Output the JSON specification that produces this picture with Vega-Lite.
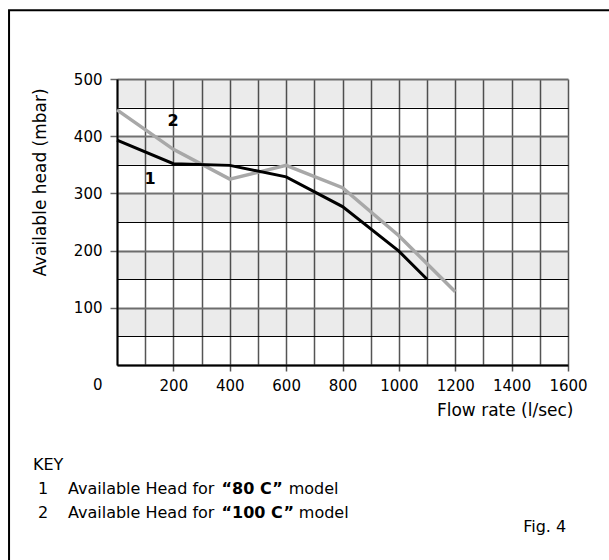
{
  "$schema": "https://vega.github.io/schema/vega-lite/v6.json",
  "width": 451,
  "height": 286,
  "autosize": {"type": "none"},
  "padding": {"left": 117, "top": 79, "right": 41, "bottom": 195},
  "background": "white",
  "config": {"view": {"stroke": null}, "font": "DejaVu Sans"},
  "datasets": {
    "bands": [
      {"head": 50, "head2": 100},
      {"head": 150, "head2": 200},
      {"head": 250, "head2": 300},
      {"head": 350, "head2": 400},
      {"head": 450, "head2": 500}
    ],
    "m100": [
      {"flow": 0, "head": 446},
      {"flow": 200, "head": 377},
      {"flow": 400, "head": 325},
      {"flow": 600, "head": 349},
      {"flow": 800, "head": 310},
      {"flow": 1000, "head": 226},
      {"flow": 1200, "head": 128}
    ],
    "m80": [
      {"flow": 0, "head": 393},
      {"flow": 200, "head": 352},
      {"flow": 400, "head": 349},
      {"flow": 600, "head": 329},
      {"flow": 800, "head": 277},
      {"flow": 1000, "head": 199},
      {"flow": 1100, "head": 150}
    ],
    "tags": [
      {"flow": 117, "head": 325, "label": "1"},
      {"flow": 199, "head": 427, "label": "2"}
    ],
    "frame": [{"flow": -383, "flow2": 1850, "head": 620, "head2": -420}],
    "keyText": [
      {"flow": -298, "head": -175, "label": "KEY"},
      {"flow": -280, "head": -217, "label": "1"},
      {"flow": -174, "head": -217, "label": "Available Head for"},
      {"flow": 609, "head": -217, "label": "model"},
      {"flow": -280, "head": -259, "label": "2"},
      {"flow": -174, "head": -259, "label": "Available Head for"},
      {"flow": 645, "head": -259, "label": "model"},
      {"flow": 1441, "head": -283, "label": "Fig. 4"}
    ],
    "keyBold": [
      {"flow": 371, "head": -217, "label": "“80 C”"},
      {"flow": 371, "head": -259, "label": "“100 C”"}
    ]
  },
  "encoding": {
    "x": {"field": "flow", "type": "quantitative", "scale": {"domain": [0, 1600], "nice": false, "zero": false},
      "axis": {
        "title": "Flow rate (l/sec)",
        "values": [0, 100, 200, 300, 400, 500, 600, 700, 800, 900, 1000, 1100, 1200, 1300, 1400, 1500, 1600],
        "labelExpr": "datum.value % 200 == 0 && datum.value != 0 ? datum.label : ''",
        "format": "d",
        "labelFontSize": 15,
        "labelColor": "#000000",
        "labelPadding": 7,
        "labelFlush": false,
        "labelOverlap": false,
        "tickSize": 6,
        "tickWidth": 1.5,
        "tickColor": {"condition": {"test": "datum.value % 200 != 0 || datum.value == 0", "value": "transparent"}, "value": "#555555"},
        "domainColor": "#000000",
        "domainWidth": 2,
        "grid": true,
        "gridColor": "#555555",
        "gridWidth": 1.5,
        "gridOpacity": 1,
        "titleFontSize": 17,
        "titleFontWeight": "normal",
        "titleColor": "#000000",
        "titleX": 456,
        "titleY": 45,
        "titleAlign": "right",
        "titleBaseline": "middle"
      }
    },
    "y": {"field": "head", "type": "quantitative", "scale": {"domain": [0, 500], "nice": false, "zero": false},
      "axis": {
        "title": "Available head (mbar)",
        "values": [0, 50, 100, 150, 200, 250, 300, 350, 400, 450, 500],
        "labelExpr": "datum.value % 100 == 0 ? datum.label : ''",
        "labelFontSize": 15,
        "labelColor": "#000000",
        "labelPadding": 8,
        "labelOffset": {"condition": {"test": "datum.value == 0", "value": 19}, "value": 0},
        "tickSize": 7,
        "tickWidth": 1.5,
        "tickColor": {"condition": {"test": "datum.value % 100 != 0 || datum.value == 0", "value": "transparent"}, "value": "#666666"},
        "domainColor": "#000000",
        "domainWidth": 2,
        "grid": true,
        "gridColor": {"condition": {"test": "datum.value % 100 != 0", "value": "#000000"}, "value": "#777777"},
        "gridWidth": {"condition": {"test": "datum.value % 100 != 0", "value": 1}, "value": 2},
        "gridOpacity": 1,
        "titleFontSize": 17,
        "titleFontWeight": "normal",
        "titleColor": "#000000",
        "titleX": -77,
        "titleY": 103,
        "titleAngle": -90,
        "titleAlign": "center",
        "titleBaseline": "middle"
      }
    }
  },
  "layer": [
    {
      "data": {"name": "bands"},
      "mark": {"type": "rect", "fill": "#000000", "fillOpacity": 0.08, "strokeWidth": 0},
      "encoding": {
        "x": {"value": 0},
        "x2": {"value": "width"},
        "y2": {"field": "head2"}
      }
    },
    {
      "data": {"name": "frame"},
      "mark": {"type": "rect", "fill": null, "stroke": "#000000", "strokeWidth": 2, "clip": false},
      "encoding": {
        "x2": {"field": "flow2"},
        "y2": {"field": "head2"}
      }
    },
    {
      "data": {"name": "m100"},
      "mark": {"type": "line", "color": "#a8a8a8", "strokeWidth": 3.5}
    },
    {
      "data": {"name": "m80"},
      "mark": {"type": "line", "color": "#000000", "strokeWidth": 3}
    },
    {
      "data": {"name": "tags"},
      "mark": {"type": "text", "fontSize": 16, "fontWeight": "bold", "color": "#000000", "align": "center", "baseline": "middle"},
      "encoding": {"text": {"field": "label"}}
    },
    {
      "data": {"name": "keyText"},
      "mark": {"type": "text", "fontSize": 16, "color": "#000000", "align": "left", "baseline": "middle", "clip": false},
      "encoding": {"text": {"field": "label"}}
    },
    {
      "data": {"name": "keyBold"},
      "mark": {"type": "text", "fontSize": 16, "fontWeight": "bold", "color": "#000000", "align": "left", "baseline": "middle", "clip": false},
      "encoding": {"text": {"field": "label"}}
    }
  ]
}
